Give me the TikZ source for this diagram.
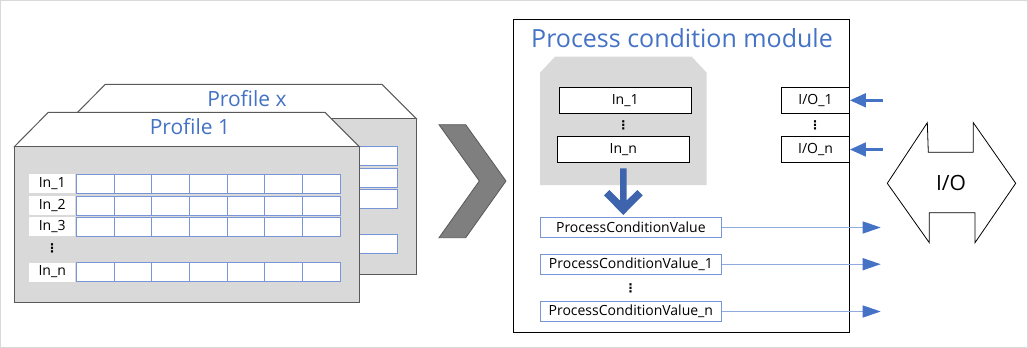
\documentclass[tikz,border=0pt]{standalone}
\usepackage{fontspec}
\setmainfont{Open Sans}
\newfontfamily\symfont{DejaVu Sans}
\usepackage{tikz}
\usetikzlibrary{arrows.meta, positioning, calc}
\usepackage{xcolor}
\definecolor{titleblue}{RGB}{68,114,196}
\definecolor{cellblue}{RGB}{120,150,215}
\definecolor{lineblue}{RGB}{143,170,220}
\definecolor{arrowblue}{RGB}{62,100,173}
\definecolor{panelgray}{RGB}{217,217,217}
\definecolor{profline}{RGB}{89,89,89}
\definecolor{chevgray}{RGB}{127,127,127}
\definecolor{framegray}{RGB}{217,217,217}
\newcommand\fsz[1]{\fontsize{#1}{#1}\selectfont}

\begin{document}
\begin{tikzpicture}[
    x=1pt, y=-1pt,
    cell/.style={draw=cellblue, fill=white, line width=1pt, inner sep=0pt,
                 minimum width=37.7pt, minimum height=19pt},
    rowlab/.style={fill=white, inner sep=0pt, minimum width=45.7pt,
                   minimum height=19pt, font=\fsz{14}},
    proftitle/.style={text=titleblue, font=\fsz{21}, inner sep=0pt},
    inbox/.style={draw=black, fill=white, line width=1pt, inner sep=0pt,
                  minimum width=132pt, minimum height=25.8pt, font=\fsz{14}},
    pcvbox/.style={draw=cellblue, fill=white, line width=1pt, inner sep=0pt,
                   minimum width=181.7pt, minimum height=19.6pt, font=\fsz{14}},
    iobox/.style={draw=black, fill=white, line width=1pt, inner sep=0pt,
                  minimum width=67.6pt, minimum height=25.8pt, font=\fsz{14}},
    vdot/.style={inner sep=0pt, font=\symfont\bfseries\fsz{12}},
    inarr/.style={-{Triangle[length=16pt, width=13.5pt]}, line width=3pt, titleblue},
    outarr/.style={-{Triangle[length=18pt, width=12pt, color=titleblue]},
                   line width=1.3pt, lineblue},
]
    \useasboundingbox (0,0) rectangle (1028,348);
    \draw[framegray, line width=1pt] (0.5,0.5) rectangle (1027.5,347.5);

    % profiles, back one first
    \foreach \dx/\dy/\pid/\ptitle in {57/-28/px/Profile x, 0/0/pa/Profile 1} {
        \begin{scope}[shift={(\dx,\dy)}]
            \draw[profline, line width=1pt, fill=white]
                (14.3,146.7) -- (48.3,112.3) -- (325,112.3) -- (359.3,146.7) -- cycle;
            \draw[profline, line width=1pt, fill=panelgray] (14.3,146.7) rectangle (359.3,302.3);
            \node[proftitle] (t-\pid) at (190,127) {\ptitle};
            \foreach \lab/\yc [count=\r] in {In\_1/183.8, In\_2/205.6, In\_3/226.9, In\_n/272} {
                \node[rowlab] (l-\pid-\r) at (52.2,\yc) {\lab};
                \foreach \c in {0,...,6}
                    \node[cell] (c-\pid-\r-\c) at ({95.15+37.7*\c},\yc) {};
            }
            \node[vdot] (d-\pid) at (52,248) {⋮};
        \end{scope}
    }

    % chevron
    \draw[profline, line width=0.8pt, fill=chevgray]
        (439,124.7) -- (465.7,124.7) -- (506,181) -- (465.7,237.7) -- (439,237.7) -- (479.3,181) -- cycle;

    % module
    \node[draw=black, line width=1pt, inner sep=0pt, minimum width=336pt,
          minimum height=312.7pt] (mod) at (681.3,175.65) {};
    \node[text=titleblue, font=\fsz{25}, inner sep=0pt] (modtitle) at (682,38.3) {Process condition module};

    \fill[panelgray] (540,72.7) -- (555,56.7) -- (691.7,56.7) -- (706.7,72.7)
        -- (706.7,185) -- (540,185) -- cycle;
    \node[inbox] (in1) at (625.2,100.3) {In\_1};
    \node[vdot] (din) at (623.3,125) {⋮};
    \node[inbox] (inn) at (623.3,149.5) {In\_n};

    \fill[arrowblue] (620,168.3) -- (626.7,168.3) -- (626.7,200.5) -- (637.3,190)
        -- (642.7,195.3) -- (623.3,215) -- (604,195.3) -- (609.3,190) -- (620,200.5) -- cycle;

    \node[pcvbox] (pcv) at (630.85,227.5) {ProcessConditionValue};
    \node[pcvbox] (pcv1) at (630.85,264.2) {ProcessConditionValue\_1};
    \node[vdot] (dpcv) at (630.7,288.3) {⋮};
    \node[pcvbox] (pcvn) at (630.85,311.5) {ProcessConditionValue\_n};

    \node[iobox] (io1) at (815.5,100.3) {I/O\_1};
    \node[vdot] (dio) at (815,125) {⋮};
    \node[iobox] (ion) at (815.5,149.5) {I/O\_n};

    % connectors
    \coordinate (oend) at (880.7,0);
    \coordinate (istart) at (882.7,0);
    \foreach \b in {pcv, pcv1, pcvn}
        \draw[outarr] (\b) -- (\b -| oend);
    \foreach \b in {io1, ion}
        \draw[inarr] (\b -| istart) -- (\b);

    % I/O double arrow
    \draw[black, line width=0.8pt] (887.3,183.3) -- (927.3,122.7) -- (928.3,152.3) -- (973.3,152.3)
        -- (973.3,122.7) -- (1015.7,183.3) -- (975,242.7) -- (975,212.7) -- (929.3,212.7)
        -- (929.3,242.7) -- cycle;
    \node[font=\fsz{21}, inner sep=0pt] (io) at (951,183) {I/O};
\end{tikzpicture}
\end{document}
